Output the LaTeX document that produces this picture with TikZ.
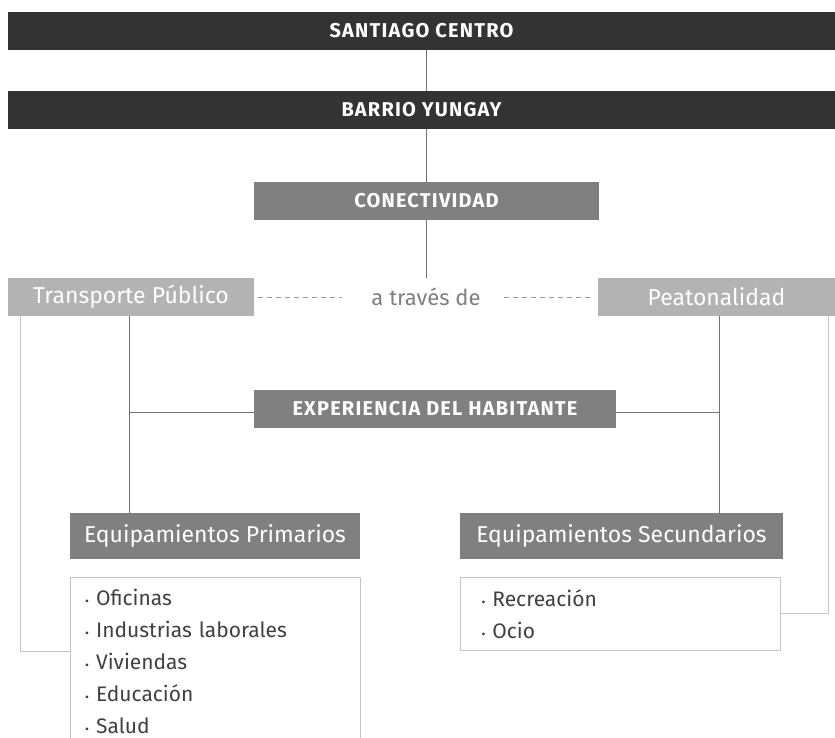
\documentclass[tikz,border=0pt]{standalone}
\usepackage{fontspec}
\setmainfont{Fira Sans}
\usetikzlibrary{positioning}
\definecolor{barc}{HTML}{333333}
\definecolor{midc}{HTML}{808080}
\definecolor{lightc}{HTML}{B3B3B3}
\definecolor{linec}{HTML}{707070}
\definecolor{faint}{HTML}{C4C4C4}
\definecolor{dashc}{HTML}{9A9A9A}
\definecolor{txtc}{HTML}{404040}
\tikzset{
  bar/.style={fill=barc, text=white, inner sep=0pt, minimum height=38pt,
    font=\bfseries\fontsize{20}{20}\selectfont\addfontfeature{LetterSpace=6}},
  headbox/.style={fill=midc, text=white, inner sep=0pt, minimum height=38pt,
    font=\bfseries\fontsize{20}{20}\selectfont\addfontfeature{LetterSpace=6}},
  modebox/.style={fill=lightc, text=white, inner sep=0pt, minimum height=38pt,
    font=\fontsize{23}{23}\selectfont},
  equipbox/.style={fill=midc, text=white, inner sep=0pt, minimum height=46pt,
    font=\fontsize{23}{23}\selectfont},
  listbox/.style={anchor=north west, align=left, text=txtc, inner ysep=12pt,
    font=\fontsize{21}{32}\selectfont},
  link/.style={linec, line width=0.8pt},
  outer/.style={faint, line width=1pt},
  dashlink/.style={dashc, line width=0.8pt, dash pattern=on 5pt off 4pt},
}
\newcommand{\itm}{{\fontsize{12}{12}\selectfont\textbullet}\hspace{7pt}}

\begin{document}
\begin{tikzpicture}[x=1pt, y=-1pt]
  \useasboundingbox (0,0) rectangle (835,738);
  % levels
  \node[bar, minimum width=827pt] (sc) at (421.5,31) {SANTIAGO CENTRO};
  \node[bar, minimum width=827pt] (by) at (421.5,110) {BARRIO YUNGAY};
  \node[headbox, minimum width=345pt] (con) at (426.5,201) {CONECTIVIDAD};
  \node[modebox, minimum width=246pt] (tp) at (131,297) {Transporte Público};
  \node[modebox, minimum width=237pt] (pe) at (716.5,297) {Peatonalidad};
  \node[text=midc, font=\fontsize{22}{22}\selectfont] (via) at (426,297) {a través de};
  \node[headbox, minimum width=362pt] (exp) at (435,409) {EXPERIENCIA DEL HABITANTE};
  \node[equipbox, minimum width=290pt] (ep) at (215,536) {Equipamientos Primarios};
  \node[equipbox, minimum width=323pt] (es) at (621.5,536) {Equipamientos Secundarios};
  % lists
  \node[listbox, inner xsep=15pt, text width=260pt] (lp) at (70,577)
    {\itm Oficinas\\ \itm Industrias laborales\\ \itm Viviendas\\ \itm Educación\\ \itm Salud};
  \node[listbox, draw=faint, line width=1pt, inner xsep=21pt, text width=278pt] (ls) at (460,577)
    {\itm Recreación\\ \itm Ocio};
  \draw[faint, line width=1pt] (lp.west |- 0,738) -- (lp.north west) -- (lp.north east) -- (lp.east |- 0,738);
  % connectors
  \draw[link] (sc.south -| con.north) -- (by.north -| con.north);
  \draw[link] (by.south -| con.north) -- (con.north);
  \draw[link] (con.south) -- (con.south |- tp.north);
  \draw[dashlink, shorten <=4pt, shorten >=28pt] (tp.east) -- (via.west -| 370,0);
  \draw[dashlink, shorten <=20pt, shorten >=5pt] (via.east) -- (pe.west);
  \draw[link] ([xshift=-2pt]tp.south) -- ([xshift=-2pt]tp.south |- ep.north);
  \draw[link] ([xshift=2.5pt]pe.south) -- ([xshift=2.5pt]pe.south |- es.north);
  \draw[link] ([yshift=-3pt]exp.west) -- ([yshift=-3pt,xshift=-2pt]exp.west -| tp.south);
  \draw[link] ([yshift=-3pt]exp.east) -- ([yshift=-3pt,xshift=2.5pt]exp.east -| pe.south);
  \draw[outer] ([xshift=13pt]tp.south west) |- ([yshift=-74pt]lp.north west);
  \draw[outer] ([xshift=-7pt]pe.south east) |- ([yshift=-36pt]ls.north east);
\end{tikzpicture}
\end{document}
